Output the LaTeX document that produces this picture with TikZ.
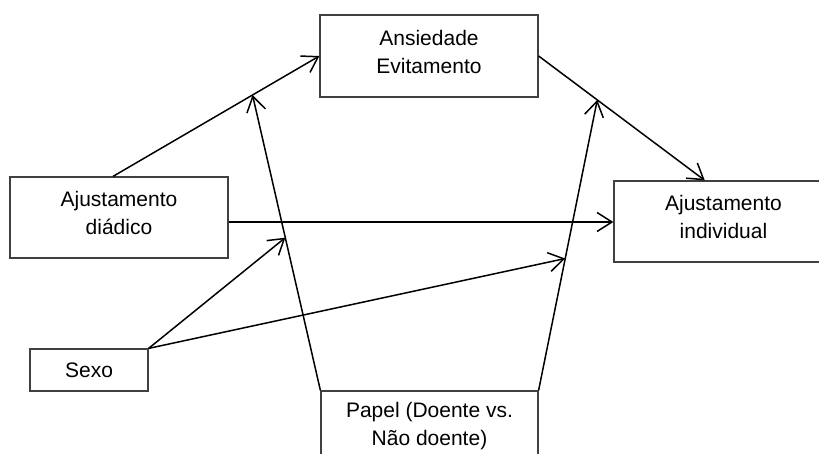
\documentclass[tikz,border=0pt]{standalone}
\usepackage{fontspec}
\setmainfont{Liberation Sans}
\usetikzlibrary{arrows.meta,calc}
\begin{document}
\begin{tikzpicture}[x=1pt,y=-1pt,
  box/.style={draw=black!75, line width=1.2pt, align=center,
    font=\fontsize{21}{28}\selectfont, inner sep=0pt},
  upbox/.style={box, text depth=9pt},
  conn/.style={line width=1.5pt, -{Straight Barb[length=15pt,width=19pt]}}]
\useasboundingbox (0,0) rectangle (819,454);
\clip (0,0) rectangle (819,454);
\node[upbox, minimum width=218pt, minimum height=82pt] (ans) at (429,56) {Ansiedade\\Evitamento};
\node[upbox, minimum width=218pt, minimum height=81pt] (dia) at (119,217.5) {Ajustamento\\diádico};
\node[upbox, minimum width=219pt, minimum height=81pt] (ind) at (723.5,221.5) {Ajustamento\\individual};
\node[box, minimum width=118pt, minimum height=42pt] (sex) at (89,370) {Sexo};
\node[box, minimum width=217pt, minimum height=70pt] (pap) at (429.5,426) {Papel (Doente vs.\\Não doente)};
\coordinate (d0) at ($(dia.north)+(-6,0)$);
\coordinate (d1) at ($(dia.east)+(0,4.5)$);
\coordinate (i0) at ($(ind.north west)!0.415!(ind.north east)$);
\coordinate (m1) at ($(d0)!0.676!(ans.west)$);
\coordinate (m2) at ($(ans.east)!0.353!(i0)$);
\coordinate (m3) at ($(pap.north west)!0.517!(m1)$);
\coordinate (m4) at ($(pap.north east)!0.454!(m2)$);
\draw[conn] (d0) -- (ans.west);
\draw[conn] (ans.east) -- (i0);
\draw[conn] (d1) -- (d1 -| ind.west);
\draw[conn] (pap.north west) -- (m1);
\draw[conn] (pap.north east) -- (m2);
\draw[conn] (sex.north east) -- (m3);
\draw[conn] (sex.north east) -- (m4);
\end{tikzpicture}
\end{document}
